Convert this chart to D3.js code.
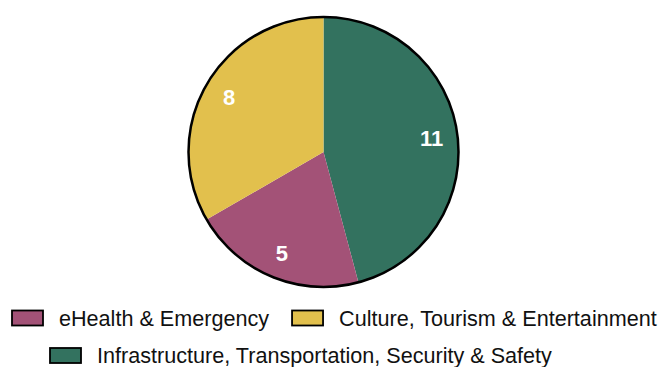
<!DOCTYPE html>
<html>
<head>
<meta charset="utf-8">
<script src="https://cdn.jsdelivr.net/npm/d3@7"></script>
<style>
  body { margin: 0; background: #fff; }
</style>
</head>
<body>
<div id="chart"></div>
<script>
// categories and values, in drawing order (clockwise from 12 o'clock)
var categories = ["Infrastructure, Transportation, Security & Safety", "eHealth & Emergency", "Culture, Tourism & Entertainment"];
var values = [11, 5, 8];
var colors = ["#33725f", "#a35277", "#e2c04d"];

// legend rows: which category goes where
var legendOrder = [[1, 2], [0]];

var width = 659, height = 367;
var cx = 323.5, cy = 152, radius = 135;

var svg = d3.select("#chart")
    .append("svg")
    .attr("width", width)
    .attr("height", height);

var data = categories.map(function(c, i) { return {name: c, value: values[i], color: colors[i]}; });

var pie = d3.pie()
    .sort(null)
    .value(function(d) { return d.value; });

var arc = d3.arc().innerRadius(0).outerRadius(radius);
var labelArc = d3.arc().innerRadius(109).outerRadius(109);

var g = svg.append("g")
    .attr("transform", "translate(" + cx + "," + cy + ")");

g.selectAll("path.slice")
    .data(pie(data))
    .enter()
    .append("path")
    .attr("class", "slice")
    .attr("d", arc)
    .attr("fill", function(d) { return d.data.color; });

// outer ring
g.append("circle")
    .attr("r", radius)
    .attr("fill", "none")
    .attr("stroke", "#000")
    .attr("stroke-width", 2.5);

g.selectAll("text.val")
    .data(pie(data))
    .enter()
    .append("text")
    .attr("class", "val")
    .attr("transform", function(d) { return "translate(" + labelArc.centroid(d) + ")"; })
    .attr("text-anchor", "middle")
    .attr("dy", "0.36em")
    .style("font-family", "Liberation Sans, Arial, sans-serif")
    .style("font-weight", "bold")
    .style("font-size", "22px")
    .attr("fill", "#fff")
    .text(function(d) { return d.data.value; });

// legend
var rowPos = [{x: 12, y: 318}, {x: 50, y: 355.5}];
legendOrder.forEach(function(row, r) {
    var x = rowPos[r].x;
    row.forEach(function(idx) {
        var item = svg.append("g").attr("transform", "translate(" + x + "," + rowPos[r].y + ")");
        item.append("rect")
            .attr("x", 0).attr("y", -7.5)
            .attr("width", 31).attr("height", 15)
            .attr("fill", colors[idx])
            .attr("stroke", "#000")
            .attr("stroke-width", 1.8);
        var t = item.append("text")
            .attr("x", 47)
            .attr("y", 0)
            .attr("dy", "0.35em")
            .style("font-family", "Liberation Sans, Arial, sans-serif")
            .style("font-size", "21.6px")
            .attr("fill", "#111")
            .text(categories[idx]);
        x += 47 + t.node().getComputedTextLength() + 23;
    });
});
</script>
</body>
</html>
